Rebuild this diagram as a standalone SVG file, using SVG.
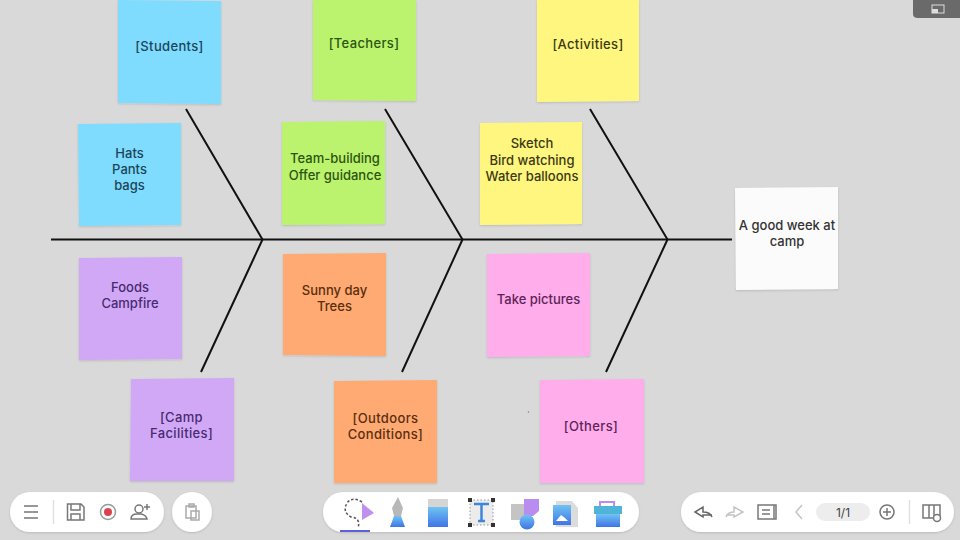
<svg xmlns="http://www.w3.org/2000/svg" width="960" height="540" viewBox="0 0 960 540">
<style>
text{font-family:"Inter","Noto Sans",sans-serif;font-size:13px;font-weight:500;fill:#1a1a1a;text-anchor:middle}
.k{letter-spacing:.35px}
.bone{stroke:#111;stroke-width:2;fill:none}
.ic{stroke:#777;stroke-width:1.5;fill:none}
.lt{stroke:#c4c4c4;stroke-width:1.5;fill:none}
.bar{fill:#fff}
.blue{fill:#80dcff}.green{fill:#bbf26e}.yellow{fill:#fff680}.purple{fill:#d0a8f5}.orange{fill:#ffaa73}.pink{fill:#ffadeb}
.tb text{fill:#1b4658}.tg text{fill:#2c5510}.ty text{fill:#3c3a12}.tp text{fill:#4a2a72}.to text{fill:#5a2e0e}.tk text{fill:#5c2458}.tw text{fill:#333}
</style>
<defs>
<filter id="s" x="-10%" y="-10%" width="120%" height="120%"><feDropShadow dx="0" dy="1" stdDeviation="1" flood-color="#000" flood-opacity=".14"/></filter>
<linearGradient id="g" x1="0" y1="0" x2="0" y2="1"><stop offset="0" stop-color="#6fc4f2"/><stop offset="1" stop-color="#3f74e6"/></linearGradient>
</defs>
<rect width="960" height="540" fill="#d9d9d9"/>
<circle cx="528.500" cy="412" r=".8" fill="#888"/>
<g id="connectors">
<path class="bone" d="M51 239.500H732"/>
<path class="bone" d="M186 109L262.500 239.500L201 372"/>
<path class="bone" d="M385 109L462.500 239.500L402 372"/>
<path class="bone" d="M590 109L667.500 239.500L606 372"/>
</g>
<g id="n-students" class="tb"><path class="blue" filter="url(#s)" d="M118 0L221 1V104L118 103Z"/><text class="k" x="169.500" y="51">[Students]</text></g>
<g id="n-teachers" class="tg"><path class="green" filter="url(#s)" d="M313 0H416V101L313 100Z"/><text class="k" x="364" y="48">[Teachers]</text></g>
<g id="n-activities" class="ty"><path class="yellow" filter="url(#s)" d="M537 0H639V101L537 102Z"/><text class="k" x="588" y="49">[Activities]</text></g>
<g id="n-clothes" class="tb"><path class="blue" filter="url(#s)" d="M78 124L181 123V225L79 226Z"/><text x="129.500" y="157.500">Hats</text><text x="129.500" y="174">Pants</text><text x="129.500" y="190">bags</text></g>
<g id="n-team" class="tg"><path class="green" filter="url(#s)" d="M282 122L385 121V224L282 225Z"/><text x="335" y="163">Team-building</text><text x="335" y="180">Offer guidance</text></g>
<g id="n-sketch" class="ty"><path class="yellow" filter="url(#s)" d="M480 123L582 122V224L480 225Z"/><text x="532" y="148">Sketch</text><text x="532" y="165">Bird watching</text><text x="532" y="181">Water balloons</text></g>
<g id="n-food" class="tp"><path class="purple" filter="url(#s)" d="M79 258L182 257V359L79 360Z"/><text x="130" y="292">Foods</text><text x="130" y="308">Campfire</text></g>
<g id="n-sunny" class="to"><path class="orange" filter="url(#s)" d="M283 254L386 253V356L283 355Z"/><text x="334.500" y="295">Sunny day</text><text x="334.500" y="311">Trees</text></g>
<g id="n-pictures" class="tk"><path class="pink" filter="url(#s)" d="M487 254L590 253V356L487 357Z"/><text x="538.500" y="304">Take pictures</text></g>
<g id="n-camp" class="tp"><path class="purple" filter="url(#s)" d="M131 379L234 378V481H130Z"/><text class="k" x="181.500" y="422">[Camp</text><text class="k" x="181.500" y="437.500">Facilities]</text></g>
<g id="n-outdoors" class="to"><path class="orange" filter="url(#s)" d="M334 381L437 380V483H334Z"/><text class="k" x="385.500" y="423">[Outdoors</text><text class="k" x="385.500" y="439">Conditions]</text></g>
<g id="n-others" class="tk"><path class="pink" filter="url(#s)" d="M540 380L644 379V483H540Z"/><text class="k" x="591" y="430.500">[Others]</text></g>
<g id="n-head" class="tw"><path fill="#fbfbfb" filter="url(#s)" d="M735 188L838 187V289L736 290Z"/><text x="787" y="230">A good week at</text><text x="787" y="246">camp</text></g>
<g id="window-button"><path fill="#6a6a6a" d="M913 0H960V18H918Q913 18 913 14Z"/><rect x="932" y="5" width="12" height="8" fill="none" stroke="#ddd"/><rect x="932" y="9" width="6" height="4" fill="#ddd"/></g>
<g id="toolbar-left">
<rect class="bar" filter="url(#s)" x="10" y="492" width="154" height="40" rx="20"/>
<rect class="bar" filter="url(#s)" x="172" y="492" width="40" height="40" rx="20"/>
<path class="ic" d="M24 506H38M24 512H38M24 518H38"/>
<path class="lt" d="M53.500 500V524" style="stroke:#e2e2e2"/>
<path class="ic" d="M67.500 504H81L84 507V520H67.500ZM71 504V510H80V504M71 520V514H80V520"/>
<circle cx="108" cy="512" r="7.500" class="ic" style="stroke:#999"/><circle cx="108" cy="512" r="4" fill="#d9424f"/>
<circle cx="139" cy="509" r="4" class="ic"/><path class="ic" d="M131 519Q131 514 137 514H141Q146 515 147 519ZM144 507H150M147 504V510"/>
<path class="ic" d="M186 506H196V518H186ZM189 504H194V507H189ZM191 511H199V520H191Z" style="stroke:#aaa"/>
</g>
<g id="toolbar-center">
<rect class="bar" filter="url(#s)" x="323" y="492" width="316" height="40" rx="20"/>
<path fill="none" stroke="#555" stroke-width="1.500" stroke-dasharray="2.500 2" d="M362 502Q352 496 347 503Q342 512 351 517Q361 518 358 528"/>
<path fill="#bf8ff0" d="M362 503L374 513L362 520Z"/>
<rect x="340" y="530" width="30" height="2" fill="#5a62d8"/>
<path fill="#b8b8b8" d="M398 497L403 508L401 516H394L392 508Z"/>
<path fill="url(#g)" d="M394 516H401L405 527H390Z"/>
<rect x="428" y="499" width="20" height="10" fill="#d5d5d5"/>
<rect x="428" y="507" width="20" height="20" fill="url(#g)"/>
<rect x="470" y="500" width="23" height="25" fill="#ececec" stroke="#999" stroke-dasharray="1.500 2"/>
<path fill="#333" d="M468 498h4v4h-4zM491 498h4v4h-4zM468 523h4v4h-4zM491 523h4v4h-4z"/>
<path fill="none" stroke="#3f86d8" stroke-width="2.500" d="M474 504H489M481.500 504V521M478 521H485"/>
<rect x="511" y="504" width="16" height="16" fill="#c4c4c4"/>
<path fill="#b98cf0" d="M524 499H539V511L533 516H524Z"/>
<circle cx="527" cy="522" r="7.500" fill="url(#g)"/>
<path fill="#dcdcdc" d="M556 501H572L578 508V527H556Z"/>
<rect x="553" y="505" width="18" height="20" fill="url(#g)"/>
<path fill="#fff" d="M556 521L561 515L565 518L568 521Z"/>
<rect x="600" y="502" width="14" height="6" fill="none" stroke="#b98cf0" stroke-width="2"/>
<rect x="594" y="506" width="28" height="8" fill="#4fb5d8"/>
<rect x="596" y="514" width="24" height="13" fill="url(#g)"/>
</g>
<g id="toolbar-right">
<rect class="bar" filter="url(#s)" x="681" y="492" width="273" height="40" rx="20"/>
<path class="ic" d="M712 517Q710 512 703 512V507L695 512L703 517V515H712" style="stroke:#666"/>
<path class="lt" d="M726 517Q728 512 734 512V507L743 512L734 517V515H726"/>
<path class="ic" d="M758 505H774V519H758ZM774 505H776V519H774M762 510H770M762 514H770"/>
<path class="lt" d="M802 505L796 512L802 519"/>
<rect x="816" y="503" width="54" height="18" rx="9" fill="#ededed"/>
<text x="843" y="517" style="font-size:12px;font-weight:400;fill:#444">1/1</text>
<circle cx="887" cy="512" r="7" class="ic"/><path class="ic" d="M883 512H891M887 508V516"/>
<path class="lt" d="M909.500 500V524" style="stroke:#e2e2e2"/>
<path class="ic" d="M923 505H940V518H923ZM929 505V518M934 505V518"/>
<circle cx="937" cy="518" r="3.500" class="ic" style="fill:#fff"/>
</g>
</svg>
